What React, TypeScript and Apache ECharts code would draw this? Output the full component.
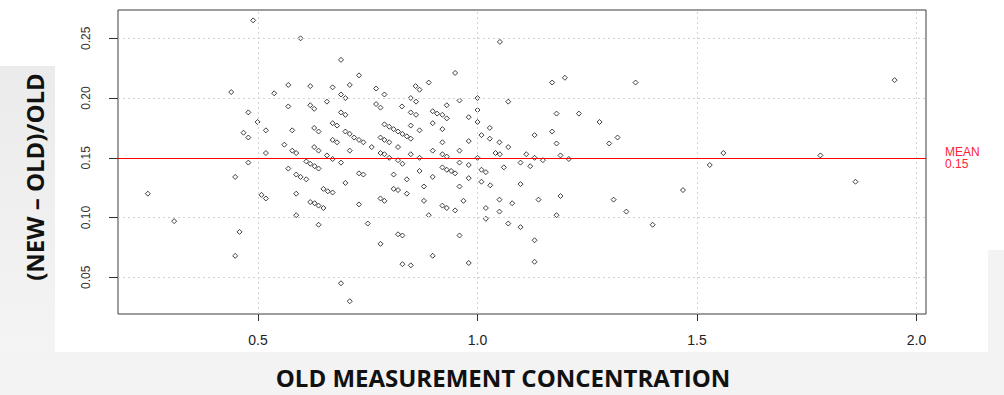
import React, { useEffect, useRef } from "react";
import * as echarts from "echarts";

const OLD_CONC: number[] = [
  0.489, 0.597, 0.439, 0.537, 0.569, 0.619, 0.569, 0.619, 0.628, 0.657,
  0.478, 0.499, 0.467, 0.478, 0.518, 0.578, 0.628, 0.638, 0.560, 0.578,
  0.587, 0.518, 0.628, 0.638, 0.657, 0.478, 0.569, 0.610, 0.619, 0.629,
  0.638, 0.587, 0.597, 0.610, 0.448, 0.249, 0.508, 0.518, 0.587, 0.649,
  0.659, 0.619, 0.629, 0.638, 0.649, 0.587, 0.638, 0.309, 0.458, 0.448,
  1.051, 0.689, 0.730, 0.709, 0.670, 0.949, 0.889, 0.769, 0.788, 0.859,
  0.868, 0.689, 0.699, 0.848, 0.860, 1.000, 0.959, 1.070, 0.769, 0.779,
  0.828, 0.930, 0.689, 0.699, 0.848, 0.860, 0.898, 0.908, 0.920, 0.930,
  1.000, 0.980, 1.000, 0.670, 0.680, 0.898, 0.788, 0.799, 0.809, 0.819,
  0.829, 0.839, 0.848, 0.848, 0.868, 0.920, 1.028, 1.009, 0.699, 0.709,
  0.719, 0.730, 0.740, 0.670, 0.680, 0.779, 0.788, 0.799, 0.819, 0.759,
  0.709, 0.920, 0.980, 1.028, 1.050, 1.070, 1.130, 0.898, 0.959, 1.041,
  1.051, 1.111, 0.779, 0.788, 0.799, 0.848, 0.868, 0.920, 0.930, 1.000,
  0.670, 0.689, 0.819, 0.829, 1.130, 0.959, 0.980, 1.060, 1.098, 1.120,
  1.149, 0.920, 0.930, 0.940, 0.949, 1.009, 1.019, 0.730, 0.740, 0.809,
  0.868, 0.898, 0.980, 0.839, 0.699, 0.670, 0.809, 0.819, 0.839, 0.878,
  0.959, 1.009, 1.029, 1.098, 0.730, 0.779, 0.788, 0.878, 0.920, 0.930,
  0.949, 0.968, 0.889, 1.019, 1.050, 1.050, 1.079, 1.139, 1.019, 0.750,
  1.070, 1.098, 0.819, 0.829, 0.959, 0.779, 1.130, 0.898, 0.829, 0.848,
  0.980, 1.130, 0.689, 0.709, 1.170, 1.199, 1.360, 1.180, 1.231, 1.278,
  1.170, 1.180, 1.300, 1.319, 1.189, 1.208, 1.560, 1.529, 1.189, 1.180,
  1.310, 1.339, 1.399, 1.468, 1.950, 1.781, 1.861,
];

const REL_DIFF: number[] = [
  0.265, 0.250, 0.205, 0.204, 0.211, 0.210, 0.193, 0.194, 0.191, 0.197,
  0.188, 0.180, 0.171, 0.167, 0.173, 0.173, 0.175, 0.172, 0.161, 0.156,
  0.154, 0.154, 0.159, 0.156, 0.152, 0.146, 0.141, 0.147, 0.145, 0.143,
  0.141, 0.136, 0.134, 0.132, 0.134, 0.120, 0.119, 0.116, 0.120, 0.124,
  0.122, 0.113, 0.112, 0.110, 0.108, 0.102, 0.094, 0.097, 0.088, 0.068,
  0.247, 0.232, 0.219, 0.211, 0.209, 0.221, 0.213, 0.208, 0.203, 0.210,
  0.207, 0.203, 0.200, 0.200, 0.197, 0.200, 0.198, 0.197, 0.195, 0.192,
  0.193, 0.194, 0.188, 0.186, 0.188, 0.186, 0.189, 0.187, 0.186, 0.183,
  0.190, 0.184, 0.180, 0.179, 0.177, 0.179, 0.178, 0.176, 0.174, 0.172,
  0.170, 0.168, 0.166, 0.177, 0.173, 0.174, 0.175, 0.169, 0.172, 0.170,
  0.167, 0.165, 0.163, 0.165, 0.163, 0.167, 0.165, 0.163, 0.159, 0.159,
  0.156, 0.163, 0.164, 0.166, 0.163, 0.159, 0.169, 0.156, 0.156, 0.154,
  0.153, 0.153, 0.154, 0.153, 0.150, 0.153, 0.150, 0.153, 0.151, 0.150,
  0.149, 0.146, 0.148, 0.145, 0.150, 0.146, 0.144, 0.142, 0.146, 0.143,
  0.148, 0.142, 0.140, 0.139, 0.137, 0.140, 0.138, 0.137, 0.136, 0.136,
  0.139, 0.134, 0.133, 0.132, 0.129, 0.121, 0.124, 0.123, 0.120, 0.126,
  0.126, 0.130, 0.127, 0.128, 0.111, 0.116, 0.114, 0.114, 0.110, 0.108,
  0.106, 0.114, 0.102, 0.108, 0.115, 0.105, 0.112, 0.115, 0.099, 0.095,
  0.095, 0.092, 0.086, 0.085, 0.085, 0.078, 0.081, 0.068, 0.061, 0.060,
  0.062, 0.063, 0.045, 0.030, 0.213, 0.217, 0.213, 0.187, 0.187, 0.180,
  0.172, 0.162, 0.162, 0.167, 0.152, 0.149, 0.154, 0.144, 0.118, 0.102,
  0.115, 0.105, 0.094, 0.123, 0.215, 0.152, 0.130,
];

const MEAN = 0.151;
const X_TICKS: number[] = [0.5, 1.0, 1.5, 2.0];
const Y_TICKS: number[] = [0.05, 0.1, 0.15, 0.2, 0.25];
const X_RANGE: number[] = [0.1811, 2.0216];
const Y_RANGE: number[] = [0.0193, 0.2737];
const X_TITLE = "OLD MEASUREMENT CONCENTRATION";
const Y_TITLE = "(NEW – OLD)/OLD";

export default function App() {
  const ref = useRef<HTMLDivElement>(null);

  useEffect(() => {
    if (!ref.current) return;
    const chart = echarts.init(ref.current, null, { renderer: "svg" });
    const points = OLD_CONC.map((x, i) => [x, REL_DIFF[i]]);

    chart.setOption({
      animation: false,
      backgroundColor: "#f3f3f3",
      grid: {
        left: 118,
        right: 78,
        top: 10,
        bottom: 81,
        show: true,
        backgroundColor: "#ffffff",
        borderColor: "#3c3c3c",
        borderWidth: 1,
      },
      xAxis: {
        type: "value",
        min: X_RANGE[0],
        max: X_RANGE[1],
        axisLine: { show: false },
        splitLine: { show: false },
        axisTick: {
          show: true,
          customValues: X_TICKS,
          length: 7,
          lineStyle: { color: "#333" },
        },
        axisLabel: {
          customValues: X_TICKS,
          formatter: (v: number) => v.toFixed(1),
          margin: 19,
          fontSize: 14,
          color: "#222",
          fontFamily: "Liberation Sans",
        },
      },
      yAxis: {
        type: "value",
        min: Y_RANGE[0],
        max: Y_RANGE[1],
        axisLine: { show: false },
        splitLine: { show: false },
        axisTick: {
          show: true,
          customValues: Y_TICKS,
          length: 9,
          lineStyle: { color: "#333" },
        },
        axisLabel: {
          customValues: Y_TICKS,
          formatter: (v: number) => v.toFixed(2),
          rotate: 90,
          margin: 26,
          fontSize: 12,
          color: "#333",
          fontFamily: "Liberation Sans",
        },
      },
      graphic: [
        {
          type: "rect",
          z: -10,
          shape: { x: 0, y: 0, width: 55, height: 66 },
          style: { fill: "#ffffff" },
        },
        {
          type: "rect",
          z: -10,
          shape: { x: 0, y: 66, width: 55, height: 286 },
          style: {
            fill: new echarts.graphic.LinearGradient(0, 0, 0, 1, [
              { offset: 0, color: "#ebebeb" },
              { offset: 1, color: "#f4f4f4" },
            ]),
          },
        },
        {
          type: "rect",
          z: -10,
          shape: { x: 55, y: 0, width: 933, height: 352 },
          style: { fill: "#ffffff" },
        },
        {
          type: "rect",
          z: -10,
          shape: { x: 988, y: 0, width: 16, height: 250 },
          style: { fill: "#ffffff" },
        },
        {
          type: "text",
          x: 503,
          y: 377,
          style: {
            text: X_TITLE,
            fill: "#111",
            font: "bold 24px 'Open Sans'",
            lineHeight: 24,
            textAlign: "center",
            textVerticalAlign: "middle",
          },
        },
        {
          type: "text",
          x: 34,
          y: 177,
          rotation: Math.PI / 2,
          style: {
            text: Y_TITLE,
            fill: "#111",
            font: "bold 24px 'Open Sans'",
            lineHeight: 24,
            textAlign: "center",
            textVerticalAlign: "middle",
          },
        },
      ],
      series: [
        {
          type: "scatter",
          data: [],
          z: 1,
          silent: true,
          markLine: {
            silent: true,
            symbol: ["none", "none"],
            label: { show: false },
            lineStyle: { color: "#d2d2d2", type: [2, 3], width: 1 },
            data: [
              ...X_TICKS.map((v) => ({ xAxis: v })),
              ...Y_TICKS.map((v) => ({ yAxis: v })),
            ],
          },
        },
        {
          type: "scatter",
          data: points,
          z: 3,
          symbol: "diamond",
          symbolSize: 5,
          itemStyle: {
            color: "rgba(0,0,0,0)",
            borderColor: "#111",
            borderWidth: 1,
          },
          markLine: {
            silent: true,
            symbol: ["none", "none"],
            lineStyle: { color: "#ff0000", width: 1, type: "solid" },
            label: {
              show: true,
              position: "end",
              distance: 19,
              formatter: "MEAN\n" + MEAN.toFixed(2),
              color: "#ff2233",
              fontSize: 12,
              lineHeight: 12,
              fontFamily: "Liberation Sans",
            },
            data: [{ yAxis: MEAN }],
          },
        },
      ],
    });

    return () => chart.dispose();
  }, []);

  return (
    <div
      ref={ref}
      style={{ position: "fixed", left: 0, top: 0, width: 1004, height: 395 }}
    />
  );
}
